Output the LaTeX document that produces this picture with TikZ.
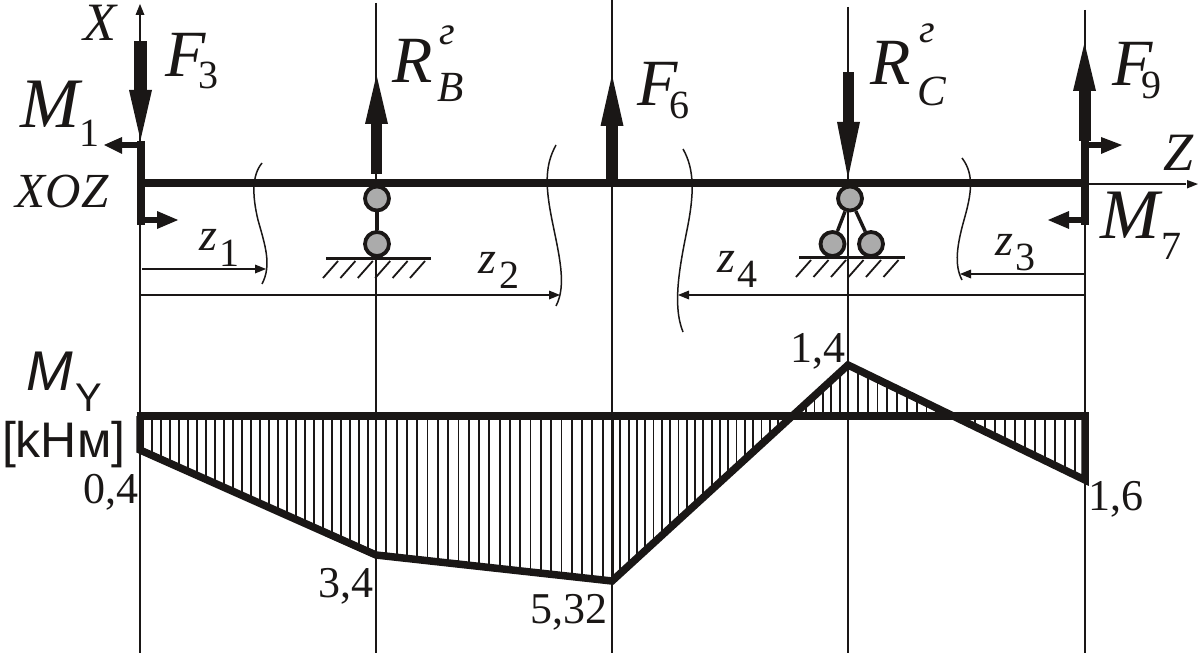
\documentclass[tikz,border=0pt]{standalone}
\usepackage{fontspec}
\setmainfont{Liberation Serif}
\setsansfont{Liberation Sans}
\definecolor{ink}{HTML}{1A1716}
\definecolor{rollgray}{HTML}{ABABAB}
\begin{document}
\begin{tikzpicture}[x=1pt,y=-1pt,
  thin line/.style={draw=ink,line width=1.4pt},
  bar/.style={draw=ink,line width=7.5pt},
  epure/.style={draw=ink,line width=7.5pt,line join=miter},
  roller/.style={circle,draw=ink,fill=rollgray,line width=3.8pt,minimum size=24pt,inner sep=0pt},
  link/.style={draw=ink,line width=3.4pt},
  ground/.style={draw=ink,line width=3pt},
  hatchline/.style={draw=ink,line width=1.8pt},
  breakline/.style={draw=ink,line width=1.5pt},
  label/.style={anchor=base west,inner sep=0pt,outer sep=0pt,text=ink},
  big/.style={label,font=\itshape\fontsize{66}{66}\selectfont},
  bigm/.style={label,font=\itshape\fontsize{71}{71}\selectfont},
  sub/.style={label,font=\fontsize{40}{40}\selectfont},
  subi/.style={label,font=\itshape\fontsize{43}{43}\selectfont},
  axl/.style={label,font=\itshape\fontsize{54}{54}\selectfont},
  zl/.style={label,font=\itshape\fontsize{46}{46}\selectfont},
  num/.style={label,font=\fontsize{44}{44}\selectfont},
  gl/.style={label,font=\itshape\fontsize{40}{40}\selectfont},
]
\useasboundingbox[fill=white] (0,0) rectangle (1198,655);

% verticals
\coordinate (a1t) at (140,12); \coordinate (a1b) at (140,653);
\coordinate (a2t) at (376,3);  \coordinate (a2b) at (376,653);
\coordinate (a3t) at (612,0);  \coordinate (a3b) at (612,653);
\coordinate (a4t) at (848,7);  \coordinate (a4b) at (848,653);
\coordinate (a5t) at (1085,10);\coordinate (a5b) at (1085,653);
\foreach \n in {1,...,5} \draw[thin line] (a\n t) -- (a\n b);
% X axis arrow
\fill[ink] (140,4) -- (135.5,15) -- (144.5,15) -- cycle;
% Z axis
\coordinate (zs) at (1085,184); \coordinate (ze) at (1186,184);
\draw[thin line] (zs) -- (ze);
\fill[ink] (1198,184) -- (1187,180) -- (1187,188.5) -- cycle;

% diagram
\coordinate (d0) at (140,450);
\coordinate (d1) at (376,555);
\coordinate (d2) at (612,581);
\coordinate (dc1) at (791,416);
\coordinate (d3) at (848,365);
\coordinate (dc2) at (953,416);
\coordinate (d4) at (1085,480);
\begin{scope}
 \clip (140,416) -- (d0) -- (d1) -- (d2) -- (dc1) -- cycle;
 \foreach \i in {0,...,24} \draw[hatchline] ({152+\i*9},416) -- ({152+\i*9},590);
 \foreach \i in {1,...,23} \draw[hatchline] ({376+\i*10.3},416) -- ({376+\i*10.3},590);
 \foreach \i in {1,...,21} \draw[hatchline] ({612+\i*8.3},416) -- ({612+\i*8.3},590);
\end{scope}
\begin{scope}
 \clip (dc1) -- (d3) -- (dc2) -- cycle;
 \foreach \i in {1,...,5} \draw[hatchline] ({848-\i*8.4},360) -- ({848-\i*8.4},416);
 \foreach \i in {1,...,10} \draw[hatchline] ({848+\i*9.8},360) -- ({848+\i*9.8},416);
\end{scope}
\begin{scope}
 \clip (dc2) -- (d4) -- (1085,416) -- cycle;
 \foreach \i in {0,...,10} \draw[hatchline] ({975+\i*10},416) -- ({975+\i*10},485);
\end{scope}
\draw[epure] (136.5,416) -- (1089,416);
\draw[epure] (140,416) -- (d0) -- (d1) -- (d2) -- (d3) -- (d4) -- (1085,416);

% beam
\coordinate (bl) at (140,183); \coordinate (br) at (1085,183);
\draw[bar] (bl) -- (br);
% moment brackets
\draw[bar,line width=8pt] (141,141) -- (141,225);
\draw[bar,line width=6pt] (141,145) -- (120,145);
\fill[ink] (104,145) -- (122,137) -- (122,154) -- cycle;
\draw[bar,line width=6pt] (141,220) -- (160,220);
\fill[ink] (178,220) -- (157,211) -- (157,229) -- cycle;
\draw[bar,line width=8pt] (1085,140) -- (1085,225);
\draw[bar,line width=6pt] (1085,145) -- (1105,145);
\fill[ink] (1122,145) -- (1101,137) -- (1101,154) -- cycle;
\draw[bar,line width=6pt] (1089,220) -- (1065,220);
\fill[ink] (1048,220) -- (1069,211) -- (1069,229) -- cycle;

% force arrows
\fill[ink] (134,41) rectangle (146.5,92);
\fill[ink] (140.5,140) -- (129,90) -- (152,90) -- cycle;
\fill[ink] (370.5,122) rectangle (382,174);
\fill[ink] (376.5,75) -- (365,124) -- (388,124) -- cycle;
\fill[ink] (606,124) rectangle (618,180);
\fill[ink] (612,75) -- (600.5,126) -- (623.5,126) -- cycle;
\fill[ink] (842.5,72) rectangle (854,124);
\fill[ink] (848,178) -- (837,122) -- (860,122) -- cycle;
\fill[ink] (1079,88) rectangle (1091,141);
\fill[ink] (1084.5,43) -- (1073,91) -- (1096,91) -- cycle;

% left support
\node[roller] (r1) at (377,198.5) {};
\node[roller] (r2) at (377,244) {};
\draw[link] (r1) -- (r2);
\coordinate (g1a) at (326,258); \coordinate (g1b) at (431,258);
\draw[ground] (g1a) -- (g1b);
\foreach \i in {0,...,5} \draw[hatchline] ({323+\i*17.4},278) -- ({338+\i*17.4},261);

% right support
\node[roller] (r3) at (850,198.5) {};
\node[roller] (r4) at (832.5,244) {};
\node[roller] (r5) at (871,244) {};
\draw[link] (r3) -- (r4);
\draw[link] (r3) -- (r5);
\coordinate (g2a) at (799,257); \coordinate (g2b) at (905,257);
\draw[ground] (g2a) -- (g2b);
\foreach \i in {0,...,5} \draw[hatchline] ({796+\i*17.5},277) -- ({811+\i*17.5},260);

% section break lines
\draw[breakline] (262,163) .. controls (252,175) and (252,195) .. (258,220) .. controls (265,245) and (272,265) .. (262,284);
\draw[breakline] (556,145) .. controls (545,165) and (545,185) .. (552,220) .. controls (559,255) and (567,285) .. (556,306);
\draw[breakline] (683,149) .. controls (695,170) and (694,195) .. (687,230) .. controls (680,265) and (672,305) .. (683,332);
\draw[breakline] (962,158) .. controls (975,175) and (971,195) .. (964,220) .. controls (957,245) and (954,265) .. (962,280);

% dimensions
\coordinate (z1a) at (142,269); \coordinate (z1b) at (256,269);
\draw[thin line,line width=1.2pt] (z1a) -- (z1b);
\fill[ink] (266,269) -- (255,264.5) -- (255,273.5) -- cycle;
\coordinate (z2a) at (140,295); \coordinate (z2b) at (550,295);
\draw[thin line,line width=1.2pt] (z2a) -- (z2b);
\fill[ink] (560,295) -- (549,290.5) -- (549,299.5) -- cycle;
\coordinate (z4a) at (1085,295); \coordinate (z4b) at (688,295);
\draw[thin line,line width=1.2pt] (z4a) -- (z4b);
\fill[ink] (678,295) -- (689,290.5) -- (689,299.5) -- cycle;
\coordinate (z3a) at (1085,274); \coordinate (z3b) at (970,274);
\draw[thin line,line width=1.2pt] (z3a) -- (z3b);
\fill[ink] (960,274) -- (971,269.5) -- (971,278.5) -- cycle;

% labels
\node[axl] (lx) at (83,41) {X};
\node[big] (f3) at (165,77) {F};
\node[sub] (f3s) at (198,89) {3};
\node[bigm] (m1) at (20,128) {M};
\node[sub] (m1s) at (79,147) {1};
\node[axl,font=\itshape\fontsize{49}{49}\selectfont] (xoz) at (16,207) {XOZ};
\node[zl] (z1) at (199,250) {z};
\node[sub] (z1s) at (219,266) {1};
\node[big] (rb) at (392,83) {R};
\node[gl] (rbg) at (439,45) {г};
\node[subi] (rbs) at (437,102) {B};
\node[big] (f6) at (637,106) {F};
\node[sub] (f6s) at (669,119) {6};
\node[big] (rc) at (870,85) {R};
\node[gl] (rcg) at (919,43) {г};
\node[subi] (rcs) at (917,106) {C};
\node[big] (f9) at (1112,86) {F};
\node[sub] (f9s) at (1141,99) {9};
\node[axl] (lz) at (1163,171) {Z};
\node[bigm] (m7) at (1100,238) {M};
\node[sub] (m7s) at (1161,259) {7};
\node[zl] (z3) at (995,255) {z};
\node[sub] (z3s) at (1015,270) {3};
\node[zl] (z2) at (478,273) {z};
\node[sub] (z2s) at (499,288) {2};
\node[zl] (z4) at (717,272) {z};
\node[sub] (z4s) at (737,287) {4};
\node[label,font=\sffamily\itshape\fontsize{56}{56}\selectfont] (my) at (27,390) {M};
\node[label,font=\sffamily\fontsize{40}{40}\selectfont] (mys) at (75,411) {Y};
\node[label,font=\sffamily\fontsize{50}{50}\selectfont] (unit) at (2,457) {[kНм]};
\node[num] (v1) at (83,503) {0,4};
\node[num] (v2) at (318,597) {3,4};
\node[num] (v3) at (530,623) {5,32};
\node[num] (v4) at (790,362) {1,4};
\node[num] (v5) at (1088,510) {1,6};
\end{tikzpicture}
\end{document}
